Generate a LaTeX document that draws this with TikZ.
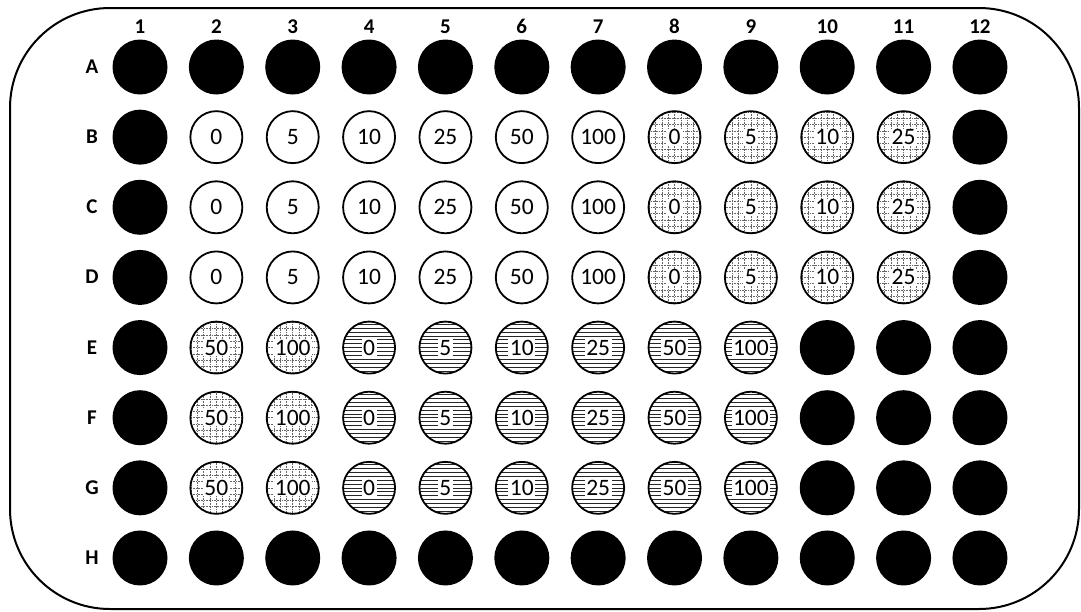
\documentclass[tikz,border=0pt]{standalone}
\usepackage{fontspec}
\setmainfont{Carlito}
\tikzset{
  blackwell/.style={circle, fill=black, minimum size=55pt, inner sep=0pt},
  wellring/.style={circle, draw=black, line width=1.8pt, minimum size=52pt, inner sep=0pt},
  numtxt/.style={inner xsep=1.5pt, inner ysep=1pt, text height=15pt, text depth=0pt, font=\fontsize{23.5}{25}\selectfont},
  haltxt/.style={numtxt, fill=white},
  collab/.style={font=\bfseries\fontsize{21}{23}\selectfont, inner sep=0pt, anchor=base},
  gridline/.style={black!60, line width=0.55pt, dash pattern=on 0.6pt off 1.0pt},
  hatchline/.style={black!85, line width=0.6pt},
  plate/.style={line width=2pt, rounded corners=100pt}
}
\newcommand\dotgrid[2]{%
  \begin{scope}
    \clip (#1,#2) circle (26pt);
    \foreach \k in {-4,...,4} {
      \draw[gridline] ({#1+\k*6.3},{#2-30}) -- ({#1+\k*6.3},{#2+30});
      \draw[gridline] ({#1-30},{#2+\k*6.3}) -- ({#1+30},{#2+\k*6.3});
    }
  \end{scope}}
\newcommand\hatchfill[2]{%
  \begin{scope}
    \clip (#1,#2) circle (26pt);
    \foreach \k in {-7,...,7} {
      \draw[hatchline] ({#1-30},{#2+\k*3.9}) -- ({#1+30},{#2+\k*3.9});
    }
  \end{scope}}
\newcommand\mywell[5]{%
  \ifcase#4\or\dotgrid{#2}{#3}\or\hatchfill{#2}{#3}\fi
  \node[wellring] (#1) at (#2,#3) {};
  \node[haltxt] (#1t) at (#2,#3) {#5};}
\begin{document}
\begin{tikzpicture}[x=1pt,y=-1pt]
\useasboundingbox (0,0) rectangle (1081,611);
\draw[plate] (10,8) rectangle (1079,609);
% column and row labels
\foreach \c in {1,...,12}
  \node[collab] (c\c) at ({140+(\c-1)*76.36},33) {\c};
\foreach \l [count=\r] in {A,B,C,D,E,F,G,H}
  \node[collab] (r\l) at (92,{73.5+(\r-1)*70.14}) {\l};
% black wells: rows A and H
\foreach \c in {1,...,12} {
  \node[blackwell] (wA\c) at ({140+(\c-1)*76.36},67) {};
  \node[blackwell] (wH\c) at ({140+(\c-1)*76.36},{67+7*70.14}) {};
}
% black wells: columns 1 and 12
\foreach \r in {2,...,7} {
  \node[blackwell] (w\r-1) at (140,{67+(\r-1)*70.14}) {};
  \node[blackwell] (w\r-12) at ({140+11*76.36},{67+(\r-1)*70.14}) {};
}
% black wells: E-G, columns 10, 11
\foreach \r in {5,6,7} {
  \node[blackwell] (w\r-10) at ({140+9*76.36},{67+(\r-1)*70.14}) {};
  \node[blackwell] (w\r-11) at ({140+10*76.36},{67+(\r-1)*70.14}) {};
}
% rows B-D
\foreach \r in {2,3,4} {
  \pgfmathsetmacro\yy{67+(\r-1)*70.14}
  \foreach \v [count=\k] in {0,5,10,25,50,100} {
    \pgfmathsetmacro\xx{140+\k*76.36}
    \mywell{wo\r-\k}{\xx}{\yy}{0}{\v}
  }
  \foreach \v [count=\k] in {0,5,10,25} {
    \pgfmathsetmacro\xx{140+(6+\k)*76.36}
    \mywell{wd\r-\k}{\xx}{\yy}{1}{\v}
  }
}
% rows E-G
\foreach \r in {5,6,7} {
  \pgfmathsetmacro\yy{67+(\r-1)*70.14}
  \foreach \v [count=\k] in {50,100} {
    \pgfmathsetmacro\xx{140+\k*76.36}
    \mywell{we\r-\k}{\xx}{\yy}{1}{\v}
  }
  \foreach \v [count=\k] in {0,5,10,25,50,100} {
    \pgfmathsetmacro\xx{140+(2+\k)*76.36}
    \mywell{wh\r-\k}{\xx}{\yy}{2}{\v}
  }
}
\end{tikzpicture}
\end{document}
